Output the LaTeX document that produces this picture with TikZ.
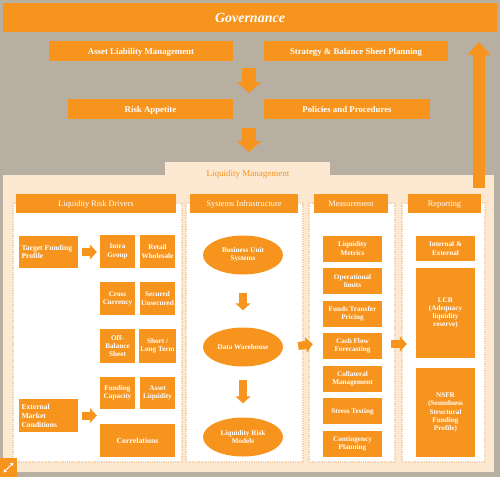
\documentclass[tikz,border=0pt]{standalone}
\usepackage{fontspec}
\setmainfont{Liberation Serif}
\usetikzlibrary{arrows.meta,shapes.geometric}
\definecolor{pwcorange}{HTML}{F7941D}
\definecolor{bggray}{HTML}{B7AFA2}
\definecolor{peach}{HTML}{FDE9D2}
\definecolor{dotc}{HTML}{F4D3AE}
\tikzset{
  box/.style={fill=pwcorange,text=white,font=\bfseries\fontsize{7.2}{8.2}\selectfont,align=center,inner sep=1pt},
  wide/.style={fill=pwcorange,text=white,font=\bfseries\fontsize{8.8}{10}\selectfont,inner sep=0pt,minimum height=20pt,text depth=0pt},
  hdr/.style={fill=pwcorange,text=white,font=\fontsize{8.3}{9}\selectfont,inner sep=0pt,minimum height=19pt,text depth=0pt},
  panel/.style={fill=white,draw=dotc,densely dotted,line width=1.3pt},
  ell/.style={ellipse,fill=pwcorange,text=white,font=\bfseries\fontsize{7.2}{8.4}\selectfont,align=center,inner sep=0pt,minimum width=80pt,minimum height=39pt},
  bigarrow/.style={pwcorange,line width=14pt,-{Triangle[length=11pt,width=24pt]}},
  uparrow/.style={pwcorange,line width=12pt,-{Triangle[length=13pt,width=23pt]}},
  smallarrow/.style={pwcorange,line width=8pt,-{Triangle[length=7pt,width=15pt]}},
  c3/.style={box,minimum width=59pt,minimum height=26pt},
  sq/.style={box,minimum width=35pt,minimum height=33pt},
}
\begin{document}
\begin{tikzpicture}[x=1pt,y=-1pt]
\fill[bggray] (0,0) rectangle (500,477);
\useasboundingbox (0,0) rectangle (500,477);
% Governance block
\node[fill=pwcorange,text=white,font=\bfseries\itshape\fontsize{14}{16}\selectfont,minimum width=494pt,minimum height=29pt,inner sep=0pt,text depth=0pt] (gov) at (250,17.5) {Governance};
\node[wide,minimum width=184pt] (alm) at (141,51) {Asset Liability Management};
\node[wide,minimum width=184pt] (sbs) at (356,51) {Strategy \& Balance Sheet Planning};
\node[wide,minimum width=165pt] (ra) at (150.5,109) {Risk Appetite};
\node[wide,minimum width=166pt] (pp) at (347,109) {Policies and Procedures};
\coordinate (a1s) at (249,68); \coordinate (a1e) at (249,93);
\coordinate (a2s) at (249,128); \coordinate (a2e) at (249,152);
\draw[bigarrow] (a1s) -- (a1e);
\draw[bigarrow] (a2s) -- (a2e);
% Liquidity management area
\fill[peach] (165,162) rectangle (330,180);
\fill[peach] (3,175) rectangle (494,472);
\node[text=pwcorange,font=\fontsize{9}{10}\selectfont,text depth=0pt] (lm) at (248,173) {Liquidity Management};
\coordinate (ups) at (479,188); \coordinate (upe) at (479,42);
\draw[uparrow] (ups) -- (upe);
% panels
\draw[panel] (13,203) rectangle (182,462);
\draw[panel] (186,203) rectangle (303,462);
\draw[panel] (309,203) rectangle (395,462);
\draw[panel] (402,203) rectangle (485,462);
\node[hdr,minimum width=160pt] (h1) at (96,203.5) {Liquidity Risk Drivers};
\node[hdr,minimum width=108pt] (h2) at (244,203.5) {Systems Infrastructure};
\node[hdr,minimum width=74pt] (h3) at (351,203.5) {Measurement};
\node[hdr,minimum width=73pt] (h4) at (444.5,203.5) {Reporting};
% column 1
\node[box,minimum width=59pt,minimum height=32pt,align=left,font=\bfseries\fontsize{7.6}{8.6}\selectfont] (tfp) at (48.5,252) {\parbox{54pt}{Target Funding\\Profile}};
\node[sq] (intra) at (117.5,251.5) {Intra\\Group};
\node[sq] (retail) at (157.5,251.5) {Retail\\Wholesale};
\node[sq] (cross) at (117.5,298.5) {Cross\\Currency};
\node[sq] (secured) at (157.5,298.5) {Secured\\Unsecured};
\node[sq,minimum height=34pt] (off) at (117.5,346) {Off-\\Balance\\Sheet};
\node[sq,minimum height=34pt] (short) at (157.5,346) {Short /\\Long Term};
\node[sq,minimum height=32pt] (fcap) at (117.5,393) {Funding\\Capacity};
\node[sq,minimum height=32pt] (aliq) at (157.5,393) {Asset\\Liquidity};
\node[box,minimum width=59pt,minimum height=33pt,font=\bfseries\fontsize{7.6}{9}\selectfont] (emc) at (48.5,415.5) {\parbox{54pt}{External\\Market\\Conditions}};
\node[box,minimum width=75pt,minimum height=33pt,font=\bfseries\fontsize{7.8}{8.8}\selectfont,text depth=0pt] (corr) at (137.5,440.5) {Correlations};
\draw[smallarrow] ([xshift=4pt]tfp.east) -- ([xshift=-3pt]tfp.east -| intra.west);
\draw[smallarrow] ([xshift=4pt]emc.east) -- ([xshift=-3pt]emc.east -| intra.west);
% column 2
\node[ell] (bus) at (243,255) {Business Unit\\Systems};
\node[ell,text depth=0pt] (dw) at (243,347) {Data Warehouse};
\node[ell] (lrm) at (243,437) {Liquidity Risk\\Models};
\draw[smallarrow,shorten <=18pt,shorten >=17pt] (bus) -- (dw);
\draw[smallarrow,shorten <=13pt,shorten >=14pt] (dw) -- (lrm);
% column 3
\node[c3] (lm1) at (352.5,248.5) {Liquidity\\Metrics};
\node[c3] (ol) at (352.5,281) {Operational\\limits};
\node[c3] (ftp) at (352.5,313.5) {Funds Transfer\\Pricing};
\node[c3] (cff) at (352.5,346) {Cash Flow\\Forecasting};
\node[c3] (cm) at (352.5,379) {Collateral\\Management};
\node[c3,text depth=0pt] (st) at (352.5,411) {Stress Testing};
\node[c3] (cp) at (352.5,444) {Contingency\\Planning};
\draw[smallarrow] ([shift={(15pt,1pt)}]dw.east) -- ([shift={(-10pt,2pt)}]cff.west);
% column 4
\node[c3,minimum height=25pt] (ie) at (445.5,248.5) {Internal \&\\External};
\node[c3,minimum height=90pt] (lcr) at (445.5,313) {LCR\\(Adequacy\\liquidity\\reserve)};
\node[c3,minimum height=89pt] (nsfr) at (445.5,412.5) {NSFR\\(Soundness\\Structural\\Funding\\Profile)};
\draw[smallarrow] ([shift={(9pt,2pt)}]cff.east) -- ([shift={(-9pt,2pt)}]cff.east -| lcr.west);
% expand icon
\node[fill=pwcorange,minimum width=17pt,minimum height=19pt,inner sep=0pt] (icon) at (8.5,467.5) {};
\draw[white,line width=1pt,-{Triangle[length=3pt,width=3.5pt]}] (icon.center) -- ++(5,-5);
\draw[white,line width=1pt,-{Triangle[length=3pt,width=3.5pt]}] (icon.center) -- ++(-5,5);
\end{tikzpicture}
\end{document}
